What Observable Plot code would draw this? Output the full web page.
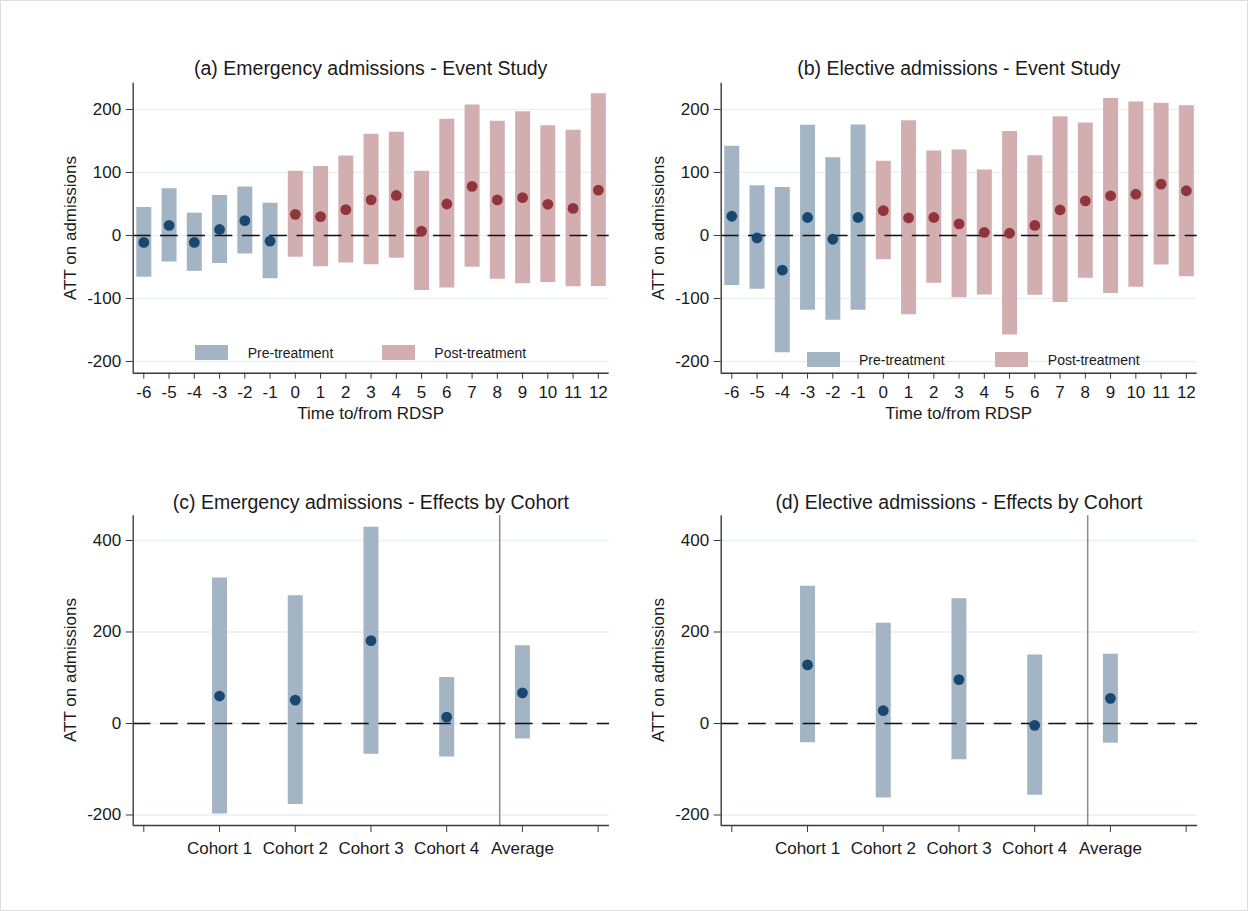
<!DOCTYPE html>
<html>
<head>
<meta charset="utf-8">
<script src="https://cdn.jsdelivr.net/npm/d3@7"></script>
<script src="https://cdn.jsdelivr.net/npm/@observablehq/plot@0.6"></script>
<style>
  body { margin: 0; background: #fff; font-family: "Liberation Sans", Arial, sans-serif; }
  #page { position: relative; width: 1246px; height: 909px; border: 1px solid #dedede; background: #fff; overflow: hidden; }
  .panel { position: absolute; }
  .panel svg { overflow: visible; }
  .txt { position: absolute; white-space: nowrap; line-height: 1; color: #1a1a1a; transform: translate(-50%, -50%); }
  .title { font-size: 19.5px; }
  .axt { font-size: 17px; }
  .ylab { font-size: 17px; transform: translate(-50%, -50%) rotate(-90deg); }
  .sw { position: absolute; }
  .leg { position: absolute; font-size: 14px; line-height: 1; color: #1a1a1a; transform: translateY(-50%); white-space: nowrap; }
</style>
</head>
<body>
<div id="page"></div>
<script>
// ---------------- DATA ----------------
const eventTimes = [-6, -5, -4, -3, -2, -1, 0, 1, 2, 3, 4, 5, 6, 7, 8, 9, 10, 11, 12];

// (a) Emergency admissions - event study
const emergEst = [-11, 16, -11, 9.5, 23.5, -9, 33.5, 30, 41, 56.5, 63.5, 7, 50, 78, 56.5, 60, 49.5, 43, 72];
const emergLo  = [-66.5, -42, -57, -44.5, -29.5, -68.5, -34.5, -49.5, -43.5, -46.5, -36, -87.5, -83.5, -50.5, -69.5, -76.5, -74.5, -81.5, -81];
const emergHi  = [44.5, 74, 35.5, 63.5, 77, 51, 102, 109.5, 126, 160.5, 164, 102, 184.5, 207, 181.5, 196.5, 174, 167, 225];

// (b) Elective admissions - event study
const electEst = [30.5, -4, -55, 28.5, -6, 28.5, 39.5, 28, 28.5, 18.5, 5, 3.5, 16, 40.5, 55, 63, 65.5, 81.5, 71];
const electLo  = [-79.5, -85.5, -186, -118.5, -134.5, -118.5, -38.5, -126, -76, -99, -94.5, -158, -95, -106.5, -68, -92, -82, -47, -65.5];
const electHi  = [141.5, 79, 76, 175, 123.5, 175.5, 118, 182, 134, 135.5, 104, 165, 126.5, 188.5, 178.5, 217.5, 212, 210, 206];

// (c)/(d) Effects by cohort
const cohortLabels = ["Cohort 1", "Cohort 2", "Cohort 3", "Cohort 4", "Average"];
const cohortPos = [1, 2, 3, 4, 5];
const cohortTicks = [0, 1, 2, 3, 4, 5, 6];
const separatorPos = [4.7];
const emergCohEst = [60, 51, 181, 14, 67];
const emergCohLo  = [-198, -177, -67, -73, -34];
const emergCohHi  = [318, 279, 429, 100.5, 170];
const electCohEst = [128, 28, 96, -4, 55];
const electCohLo  = [-42, -163, -79, -157, -43];
const electCohHi  = [300, 219, 272.5, 149.5, 151.5];

// axis ranges and ticks
const esXDomain = [-6.42, 12.43];
const esYDomain = [-218.6, 241.7];
const esYTicks = [-200, -100, 0, 100, 200];
const cohXDomain = [-0.14, 6.15];
const cohYDomain = [-223, 454];
const cohYTicks = [-200, 0, 200, 400];

const titles = [
  "(a) Emergency admissions - Event Study",
  "(b) Elective admissions - Event Study",
  "(c) Emergency admissions - Effects by Cohort",
  "(d) Elective admissions - Effects by Cohort"
];
const legendLabels = ["Pre-treatment", "Post-treatment"];

// ---------------- STYLE ----------------
const navy = "#1a476f", maroon = "#90353b";
const navyBar = "#a3b5c5", maroonBar = "#d3aeb1";
const gridColor = "#e8f0f2";
const axisColor = "#3a3a3a";
const FONT = "'Liberation Sans', Arial, sans-serif";

const page = document.getElementById("page");

function addText(cls, text, x, y) {
  const d = document.createElement("div");
  d.className = "txt " + cls;
  d.textContent = text;
  d.style.left = x + "px";
  d.style.top = y + "px";
  page.appendChild(d);
}

function place(svg, left, top) {
  const wrap = document.createElement("div");
  wrap.className = "panel";
  wrap.style.left = left + "px";
  wrap.style.top = top + "px";
  wrap.appendChild(svg);
  page.appendChild(wrap);
}

function gridMarks(yTicks) {
  return [Plot.ruleY(yTicks, {stroke: gridColor, strokeWidth: 1.3})];
}

function frameMarks(xDomain, yDomain) {
  return [
    Plot.ruleX([xDomain[0]], {stroke: axisColor, strokeWidth: 1.4}),
    Plot.ruleY([yDomain[0]], {stroke: axisColor, strokeWidth: 1.4})
  ];
}

function eventPanel(est, lo, hi, left, top) {
  const data = eventTimes.map((t, i) => ({t, est: est[i], lo: lo[i], hi: hi[i], pre: t < 0}));
  const svg = Plot.plot({
    width: 590, height: 360,
    marginLeft: 101.7, marginRight: 12.3, marginTop: 21.7, marginBottom: 48.3,
    style: {fontFamily: FONT, fontSize: "17px", color: "#1a1a1a", background: "transparent", overflow: "visible"},
    x: {domain: esXDomain, label: null},
    y: {domain: esYDomain, label: null},
    marks: [
      ...gridMarks(esYTicks),
      Plot.ruleX(data, {x: "t", y1: "lo", y2: "hi", stroke: d => d.pre ? navyBar : maroonBar, strokeWidth: 15}),
      Plot.ruleY([0], {stroke: "#111", strokeWidth: 1.6, strokeDasharray: "17.7,9.6"}),
      Plot.dot(data, {x: "t", y: "est", r: 5.4, fill: d => d.pre ? navy : maroon, stroke: "none"}),
      ...frameMarks(esXDomain, esYDomain),
      Plot.axisX({ticks: eventTimes, tickFormat: d => String(d), tickSize: 6, tickPadding: 7, fontSize: 17, stroke: axisColor, label: null}),
      Plot.axisY({ticks: esYTicks, tickFormat: d => String(d), tickSize: 7, tickPadding: 5, fontSize: 17, stroke: axisColor, label: null})
    ]
  });
  place(svg, left, top);
}

function cohortPanel(est, lo, hi, left, top) {
  const data = cohortPos.map((p, i) => ({p, est: est[i], lo: lo[i], hi: hi[i]}));
  const svg = Plot.plot({
    width: 590, height: 380,
    marginLeft: 101.7, marginRight: 12, marginTop: 19.3, marginBottom: 51,
    style: {fontFamily: FONT, fontSize: "17px", color: "#1a1a1a", background: "transparent", overflow: "visible"},
    x: {domain: cohXDomain, label: null},
    y: {domain: cohYDomain, label: null},
    marks: [
      ...gridMarks(cohYTicks),
      Plot.ruleX(separatorPos, {stroke: "#8c8c8c", strokeWidth: 1.5}),
      Plot.ruleX(data, {x: "p", y1: "lo", y2: "hi", stroke: navyBar, strokeWidth: 15}),
      Plot.ruleY([0], {stroke: "#111", strokeWidth: 1.6, strokeDasharray: "17.7,9.6"}),
      Plot.dot(data, {x: "p", y: "est", r: 5.4, fill: navy, stroke: "none"}),
      ...frameMarks(cohXDomain, cohYDomain),
      Plot.axisX({ticks: cohortTicks, tickFormat: d => cohortLabels[d - 1] ?? "", tickSize: 7, tickPadding: 9, fontSize: 17, stroke: axisColor, label: null}),
      Plot.axisY({ticks: cohYTicks, tickFormat: d => String(d), tickSize: 7, tickPadding: 5, fontSize: 17, stroke: axisColor, label: null})
    ]
  });
  place(svg, left, top);
}

function legend(x0, y0, dxText, dxRed, dxText2) {
  const items = [[navyBar, legendLabels[0], 0, dxText], [maroonBar, legendLabels[1], dxRed, dxText2]];
  for (const [col, lab, sx, tx] of items) {
    const s = document.createElement("div");
    s.className = "sw";
    s.style.cssText = `left:${x0 + sx}px;top:${y0 - 7.5}px;width:33px;height:15px;background:${col};`;
    page.appendChild(s);
    const t = document.createElement("div");
    t.className = "leg";
    t.textContent = lab;
    t.style.left = (x0 + tx) + "px";
    t.style.top = y0 + "px";
    page.appendChild(t);
  }
}

// panels
eventPanel(emergEst, emergLo, emergHi, 30, 60);
eventPanel(electEst, electLo, electHi, 618, 60);
cohortPanel(emergCohEst, emergCohLo, emergCohHi, 30, 495);
cohortPanel(electCohEst, electCohLo, electCohHi, 618, 495);

// titles and axis titles
addText("title", titles[0], 369.7, 68.3);
addText("title", titles[1], 957.7, 68.3);
addText("title", titles[2], 369.9, 501.7);
addText("title", titles[3], 957.9, 501.7);
addText("axt", "Time to/from RDSP", 369.7, 411.5);
addText("axt", "Time to/from RDSP", 957.7, 411.5);
addText("ylab", "ATT on admissions", 68.5, 226.7);
addText("ylab", "ATT on admissions", 656.5, 226.7);
addText("ylab", "ATT on admissions", 68.5, 669);
addText("ylab", "ATT on admissions", 656.5, 669);

// legends
legend(194, 351.7, 52.7, 187, 239.3);
legend(806, 358.5, 52, 188, 240.8);
</script>
</body>
</html>
